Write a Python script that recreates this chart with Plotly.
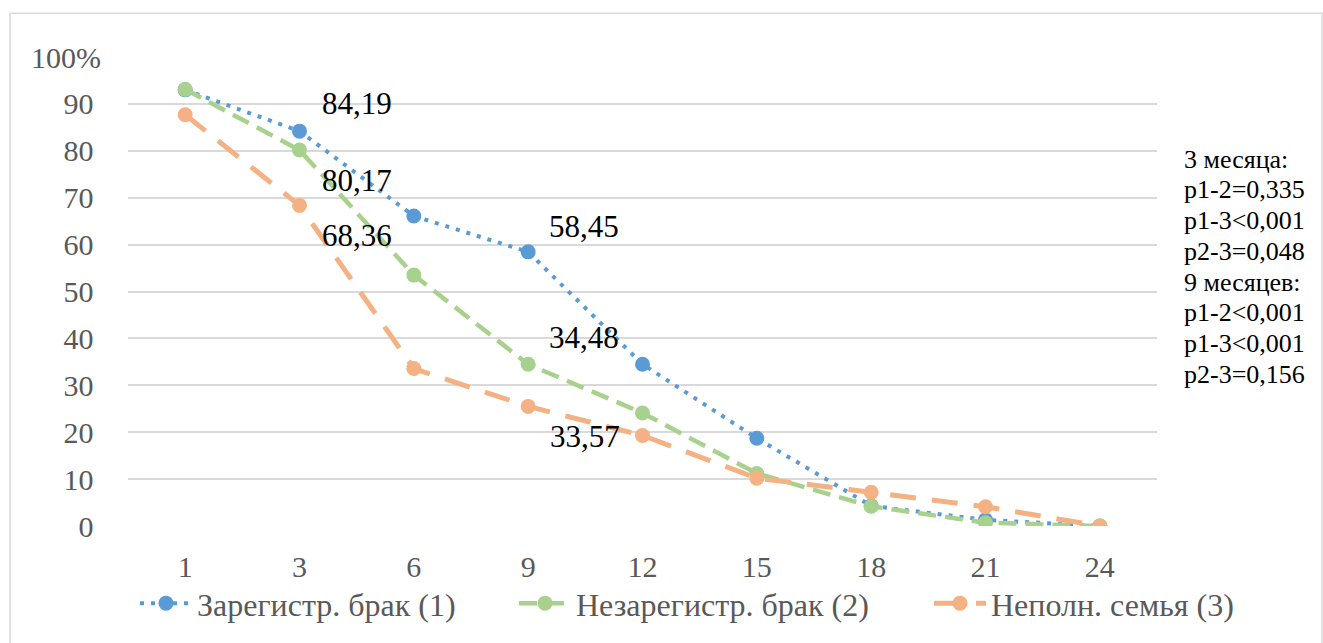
import plotly.graph_objects as go

months = ["1", "3", "6", "9", "12", "15", "18", "21", "24"]
registered = [93.0, 84.19, 66.1, 58.45, 34.5, 18.7, 4.3, 1.3, 0.0]
unregistered = [93.1, 80.17, 53.5, 34.48, 24.1, 11.2, 4.2, 0.7, 0.0]
incomplete = [87.7, 68.36, 33.57, 25.5, 19.3, 10.2, 7.2, 4.1, 0.0]
series_names = ["Зарегистр. брак (1)", "Незарегистр. брак (2)", "Неполн. семья (3)"]
colors = ["#5B9BD5", "#A9D18E", "#F4B183"]
y_ticks = [0, 10, 20, 30, 40, 50, 60, 70, 80, 90, 100]
y_tick_text = ["0", "10", "20", "30", "40", "50", "60", "70", "80", "90", "100%"]

value_labels = ["84,19", "80,17", "68,36", "58,45", "34,48", "33,57"]
label_x = [1.5, 1.5, 1.5, 3.49, 3.49, 3.5]
label_y = [90.0, 73.6, 61.9, 63.8, 40.2, 19.0]

stats_text = ["3 месяца:", "p1-2=0,335", "p1-3<0,001", "p2-3=0,048",
              "9 месяцев:", "p1-2<0,001", "p1-3<0,001", "p2-3=0,156"]

SERIF = "Liberation Serif"
L, R, T, B = 128, 166, 57, 113
PW, PH = 1323 - L - R, 643 - T - B


def px_x(p):
    return (p - L) / PW


def px_y(p):
    return (643 - B - p) / PH


fig = go.Figure()
dashes = ["4px,7px", "18px,9px", "26px,16px"]
widths = [4, 4.5, 5]
legend_ids = ["legend", "legend2", "legend3"]
for vals, name, col, dash, w, lg in zip([registered, unregistered, incomplete],
                                        series_names, colors, dashes, widths, legend_ids):
    fig.add_trace(go.Scatter(
        x=months, y=vals, name=name, mode="lines+markers",
        line=dict(color=col, width=w, dash=dash),
        marker=dict(color=col, size=15), legend=lg,
    ))

for t, xx, yy in zip(value_labels, label_x, label_y):
    fig.add_annotation(x=xx, y=yy, xref="x", yref="y", text=t, showarrow=False,
                       font=dict(family=SERIF, size=31, color="#000000"))

for i, s in enumerate(stats_text):
    fig.add_annotation(x=px_x(1182), y=px_y(160 + 31 * i), xref="paper", yref="paper",
                       xanchor="left", yanchor="middle", align="left",
                       text=s.replace("<", "&lt;"), showarrow=False,
                       font=dict(family=SERIF, size=26, color="#000000"))

fig.add_shape(type="rect", xref="paper", yref="paper",
              x0=px_x(10), x1=px_x(1322), y0=px_y(660), y1=px_y(13),
              line=dict(color="#D9D9D9", width=1.5), fillcolor="rgba(0,0,0,0)",
              layer="below")

nb = "\u00a0"
tick_text_aligned = [t if t.endswith("%") else t + nb for t in y_tick_text]

legend_style = dict(orientation="h", xanchor="left", yanchor="middle", y=px_y(608),
                    font=dict(family=SERIF, size=32, color="#595959"), itemwidth=52,
                    bgcolor="rgba(0,0,0,0)")
leg_starts = [135, 514, 929]

fig.update_layout(
    width=1323, height=643,
    margin=dict(l=L, r=R, t=T, b=B),
    paper_bgcolor="white", plot_bgcolor="white",
    font=dict(family=SERIF, color="#595959"),
    xaxis=dict(type="category", range=[-0.5, 8.5], showgrid=False, showline=False,
               zeroline=False, ticks="", ticklabelstandoff=20,
               tickfont=dict(family=SERIF, size=30, color="#595959")),
    yaxis=dict(range=[0, 100], tickvals=y_ticks, ticktext=tick_text_aligned,
               showgrid=True, gridcolor="#D9D9D9", gridwidth=1.5, zeroline=False,
               showline=False, ticks="", ticklabelstandoff=26,
               tickfont=dict(family=SERIF, size=30, color="#595959")),
    legend=dict(x=px_x(leg_starts[0]), **legend_style),
    legend2=dict(x=px_x(leg_starts[1]), **legend_style),
    legend3=dict(x=px_x(leg_starts[2]), **legend_style),
    showlegend=True,
)

fig.write_html("out.html")
